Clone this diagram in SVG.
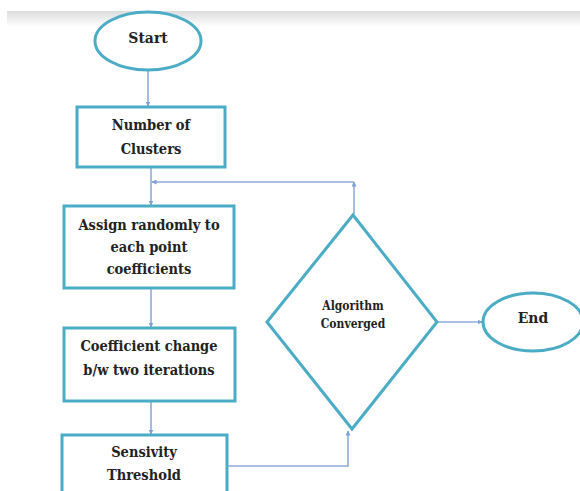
<svg xmlns="http://www.w3.org/2000/svg" width="580" height="491" viewBox="0 0 580 491">
  <defs>
    <linearGradient id="shadow" x1="0" y1="0" x2="0" y2="1">
      <stop offset="0" stop-color="#dcdcdc"/>
      <stop offset="1" stop-color="#ffffff"/>
    </linearGradient>
    <marker id="arr" viewBox="0 0 10 10" refX="9" refY="5" markerWidth="5" markerHeight="5" orient="auto" markerUnits="userSpaceOnUse">
      <path d="M0,0 L10,5 L0,10 z" fill="#7f9fd6"/>
    </marker>
  </defs>
  <style>
    .shape { fill: #ffffff; stroke: #4bacc6; stroke-width: 3; }
    .conn { fill: none; stroke: #8eaadb; stroke-width: 1.6; }
    text { font-family: "DejaVu Serif Condensed", "DejaVu Serif", serif; font-stretch: condensed; font-weight: bold; font-size: 14.5px; fill: #222222; text-anchor: middle; }
    .small { font-size: 12px; }
    .big { font-size: 15.5px; }
  </style>
  <rect x="0" y="0" width="580" height="491" fill="#ffffff"/>
  <rect x="7" y="11" width="573" height="16" fill="url(#shadow)"/>

  <g id="connectors">
    <line class="conn" x1="148" y1="71" x2="148" y2="106" marker-end="url(#arr)"/>
    <line class="conn" x1="151" y1="167" x2="151" y2="205" marker-end="url(#arr)"/>
    <line class="conn" x1="151" y1="289" x2="151" y2="327" marker-end="url(#arr)"/>
    <line class="conn" x1="151" y1="402" x2="151" y2="434" marker-end="url(#arr)"/>
    <polyline class="conn" points="227,466 348,466 348,431" marker-end="url(#arr)"/>
    <line class="conn" x1="437" y1="322" x2="482" y2="322" marker-end="url(#arr)"/>
    <line class="conn" x1="354" y1="214" x2="354" y2="182" marker-end="url(#arr)"/>
    <line class="conn" x1="354" y1="182" x2="152" y2="182" marker-end="url(#arr)"/>
  </g>

  <g id="start">
    <ellipse class="shape" cx="148" cy="41" rx="53" ry="29"/>
    <text class="big" x="148" y="43">Start</text>
  </g>

  <g id="num-clusters">
    <rect class="shape" x="77" y="107" width="148" height="60"/>
    <text x="151" y="130">Number of</text>
    <text x="151" y="154">Clusters</text>
  </g>

  <g id="assign">
    <rect class="shape" x="64" y="206" width="170" height="82"/>
    <text x="149" y="230">Assign randomly to</text>
    <text x="149" y="252">each point</text>
    <text x="149" y="274">coefficients</text>
  </g>

  <g id="coef-change">
    <rect class="shape" x="64" y="328" width="171" height="73"/>
    <text x="149" y="351">Coefficient change</text>
    <text x="149" y="375">b/w two iterations</text>
  </g>

  <g id="threshold">
    <rect class="shape" x="62" y="435" width="165" height="70"/>
    <text x="144" y="457">Sensivity</text>
    <text x="144" y="480">Threshold</text>
  </g>

  <g id="converged">
    <polygon class="shape" points="353,215 437,322 352,429 267,322"/>
    <text class="small" x="353" y="310">Algorithm</text>
    <text class="small" x="353" y="328">Converged</text>
  </g>

  <g id="end">
    <ellipse class="shape" cx="533" cy="322" rx="50" ry="29"/>
    <text class="big" x="533" y="323">End</text>
  </g>
</svg>
